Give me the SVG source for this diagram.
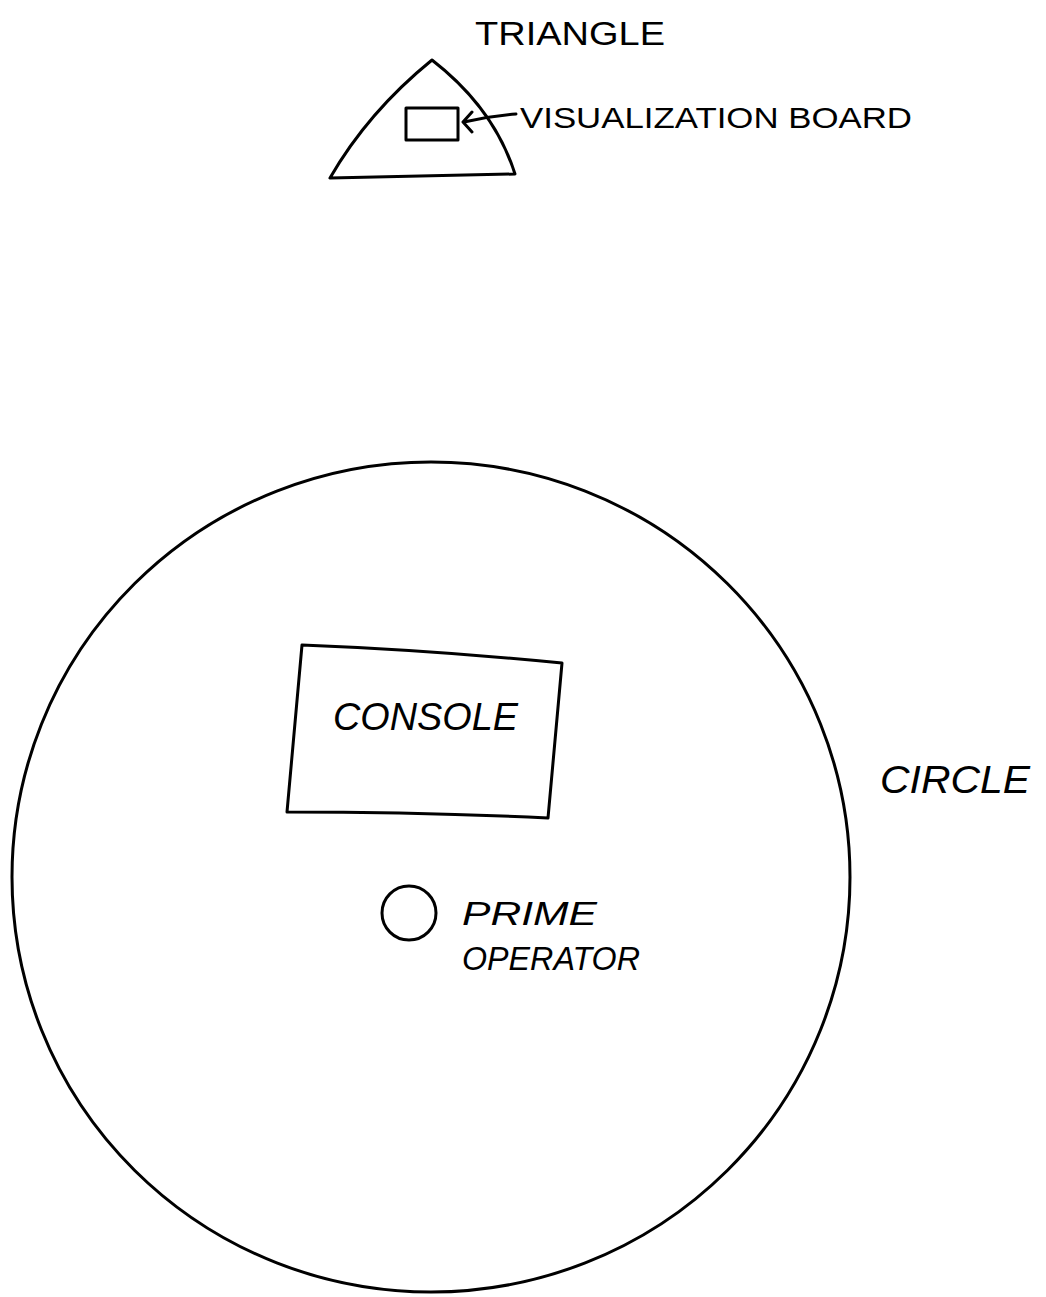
<svg xmlns="http://www.w3.org/2000/svg" width="1046" height="1297" viewBox="0 0 1046 1297">
<style>
.s{fill:none;stroke:#000;stroke-width:3;stroke-linecap:round;stroke-linejoin:round}
.t{font-family:"Liberation Sans",Arial,sans-serif;fill:#000}
.i{font-style:italic}
</style>
<rect width="1046" height="1297" fill="#fff"/>
<g id="triangle">
<path class="s" d="M432 60 Q368 112 330 178 L515 174 Q494 108 432 60 Z"/>
<text class="t" x="475" y="45" font-size="34" textLength="190" lengthAdjust="spacingAndGlyphs">TRIANGLE</text>
</g>
<g id="visualization-board">
<rect class="s" x="406" y="108" width="52" height="32"/>
<text class="t" x="520" y="128" font-size="30" textLength="392" lengthAdjust="spacingAndGlyphs">VISUALIZATION BOARD</text>
</g>
<g id="circle">
<ellipse class="s" cx="431" cy="877" rx="419" ry="415"/>
<text class="t i" x="880" y="793" font-size="38" textLength="150" lengthAdjust="spacingAndGlyphs">CIRCLE</text>
</g>
<g id="console">
<path class="s" d="M302 645 Q430 650 562 663 L548 818 Q420 812 287 812 Z"/>
<text class="t i" x="333" y="730" font-size="38" textLength="185" lengthAdjust="spacingAndGlyphs">CONSOLE</text>
</g>
<g id="prime-operator">
<circle class="s" cx="409" cy="913" r="27"/>
<text class="t i" x="462" y="925" font-size="34" textLength="135" lengthAdjust="spacingAndGlyphs">PRIME</text>
<text class="t i" x="462" y="970" font-size="34" textLength="178" lengthAdjust="spacingAndGlyphs">OPERATOR</text>
</g>
<g id="connectors">
<path class="s" d="M516 114 Q490 116 464 122 M472 112 L463 122 L472 132"/>
</g>
</svg>
